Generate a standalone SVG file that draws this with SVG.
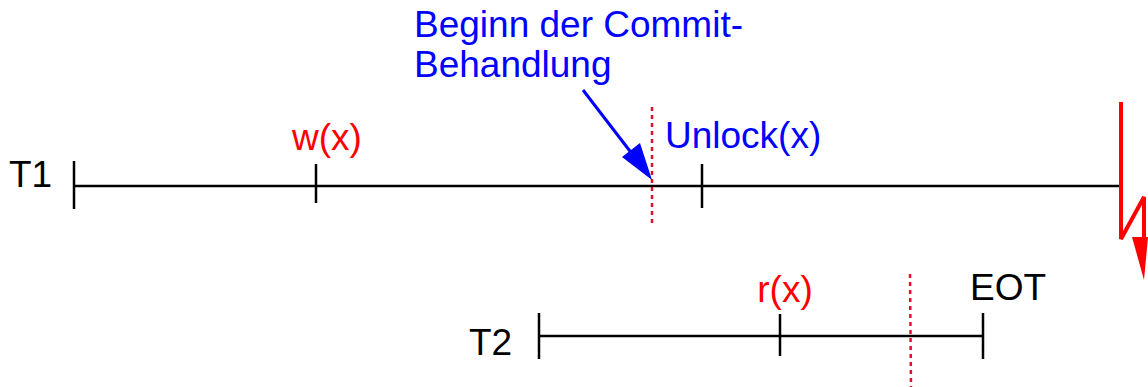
<svg xmlns="http://www.w3.org/2000/svg" width="1148" height="387" viewBox="0 0 1148 387">
<style>
text{font-family:"Liberation Sans",Arial,sans-serif;font-size:37px}
.k{fill:#000}.r{fill:#ff0000}.b{fill:#0000ff}
.ln{stroke:#000;stroke-width:2.5;fill:none}
.dot{stroke:#e0102f;stroke-width:2.5;stroke-dasharray:4,4;fill:none}
</style>
<g id="T1">
<text class="k" x="9" y="187">T1</text>
<line class="ln" x1="74" y1="186" x2="1121" y2="186"/>
<line class="ln" x1="74" y1="161" x2="74" y2="209"/>
</g>
<g id="w">
<text class="r" x="327" y="150" text-anchor="middle">w(x)</text>
<line class="ln" x1="316" y1="164" x2="316" y2="203"/>
</g>
<g id="unlock">
<text class="b" x="665" y="148">Unlock(x)</text>
<line class="ln" x1="702" y1="164" x2="702" y2="208"/>
</g>
<g id="commit">
<text class="b" x="414" y="37">Beginn der Commit-</text>
<text class="b" x="414" y="77">Behandlung</text>
<line class="dot" x1="652" y1="107" x2="652" y2="224"/>
</g>
<g id="abort">
<path d="M1121,102 L1121,239 L1144,197 L1144,240" stroke="#ff0000" stroke-width="4" fill="none" stroke-linejoin="miter"/>
<path d="M1132,237 L1148,237 L1144,280 z" fill="#ff0000"/>
</g>
<g id="T2">
<text class="k" x="469" y="355">T2</text>
<line class="ln" x1="539" y1="336" x2="983" y2="336"/>
<line class="ln" x1="539" y1="313" x2="539" y2="359"/>
</g>
<g id="r">
<text class="r" x="785" y="302" text-anchor="middle">r(x)</text>
<line class="ln" x1="780" y1="314" x2="780" y2="356"/>
</g>
<g id="commit2">
<line class="dot" x1="910" y1="274" x2="911" y2="387"/>
</g>
<g id="EOT">
<text class="k" x="970" y="300">EOT</text>
<line class="ln" x1="983" y1="313" x2="983" y2="359"/>
</g>
<g id="connectors">
<line x1="583" y1="90" x2="646" y2="172" stroke="#0000ff" stroke-width="3"/>
<path d="M652,180 L622,157 L640,143 z" fill="#0000ff"/>
</g>
</svg>
